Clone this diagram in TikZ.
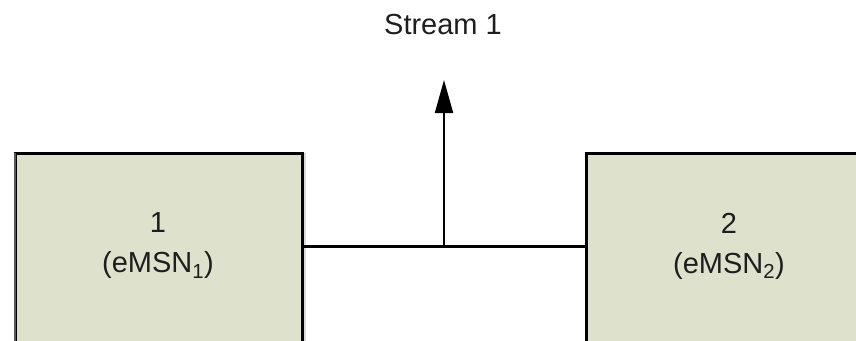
\documentclass[tikz,border=0pt]{standalone}
\usepackage{fontspec}
\setmainfont{Liberation Sans}
\usetikzlibrary{arrows.meta}
\definecolor{boxfill}{RGB}{222,225,204}
\definecolor{txt}{RGB}{30,30,30}
\begin{document}
\begin{tikzpicture}[x=1pt,y=-1pt,
  boxst/.style={draw=black,line width=3pt,fill=boxfill,minimum width=287pt,minimum height=260pt,anchor=north,inner sep=0pt},
  lbl/.style={text=txt,font=\fontsize{29}{40}\selectfont,align=center,inner sep=0pt},
  wire/.style={line width=3pt},
  stemst/.style={line width=2pt,-{Triangle[length=33pt,width=18pt]}}]
\useasboundingbox (0,0) rectangle (856,340);
% shadow of left box
\fill[black!15] (303,153) rectangle (306,345);
\node[boxst] (b1) at (158.5,151.5) {};
\node[boxst] (b2) at (729.5,151.5) {};
\draw[gray!70!black,line width=2pt] (15,152.5) -- (15,345);
\node[lbl] (t1) at (158,246) {1\\(eMSN\textsubscript{1})};
\node[lbl] (t2) at (729,246) {2\\(eMSN\textsubscript{2})};
\node[lbl] (s1) at (443,25) {Stream 1};
\coordinate (j) at (444,246.5);
\coordinate (tip) at (444,80);
\draw[wire] (b1.east |- j) -- (b2.west |- j);
\draw[stemst] (j) -- (tip);
\end{tikzpicture}
\end{document}
